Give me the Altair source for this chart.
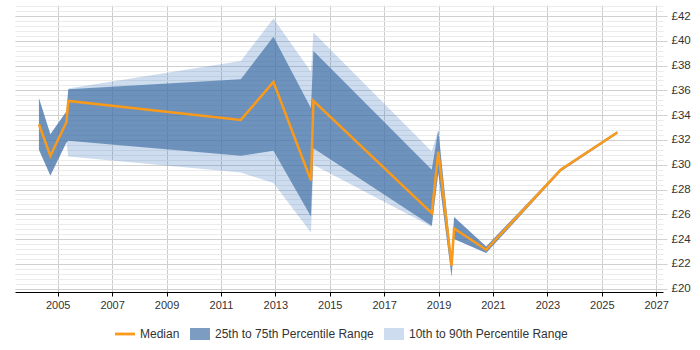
import altair as alt
import pandas as pd

years = [2004.31, 2004.73, 2005.32, 2005.39, 2011.73, 2012.93, 2014.31, 2014.40,
         2018.75, 2018.99, 2019.48, 2019.57, 2020.75, 2023.49, 2025.57]
median = [33.27, 30.72, 33.43, 35.15, 33.62, 36.68, 28.73, 35.15,
          26.10, 31.06, 21.85, 24.86, 23.14, 29.59, 32.60]
p25 = [31.20, 29.13, 31.80, 31.93, 30.72, 31.12, 25.83, 31.33,
       25.08, 29.35, 20.94, 24.00, 22.88, 29.45, 32.50]
p75 = [35.37, 32.47, 34.30, 36.10, 36.90, 40.33, 34.56, 39.18,
       29.59, 32.81, 22.30, 25.78, 23.40, 29.70, 32.70]
p10 = [31.20, 29.13, 31.80, 30.66, 29.37, 28.52, 24.54, 30.00,
       25.00, 29.35, 20.94, 24.00, 22.88, 29.45, 32.50]
p90 = [35.37, 32.47, 34.30, 36.15, 38.37, 41.81, 37.50, 40.68,
       31.06, 32.81, 22.30, 25.78, 23.40, 29.70, 32.70]

series_names = ["Median", "25th to 75th Percentile Range", "10th to 90th Percentile Range"]
x_ticks = list(range(2005, 2028, 2))
y_major = list(range(20, 43, 2))
y_minor = [round(20 + 0.4 * k, 1) for k in range(58)]

df = pd.DataFrame({"year": years, "median": median, "p10": p10, "p25": p25,
                   "p75": p75, "p90": p90})

FONT = "Liberation Sans"
ORANGE = "#fa9a1a"
DARK = "rgba(69,114,167,0.70)"
LIGHT = "rgba(60,120,190,0.26)"

xscale = alt.Scale(domain=[2003.43, 2027.25], nice=False, zero=False)
yscale = alt.Scale(domain=[19.73, 42.89], nice=False, zero=False)

shape_expr = "datum.value === 'Median' ? 'M-1,-0.14H1V0.14H-1Z' : 'M-1,-0.6H1V0.6H-1Z'"
fill_expr = "datum.value === 'Median' ? '%s' : (datum.value === '%s' ? '%s' : '%s')" % (
    ORANGE, series_names[1], DARK, LIGHT)

color = alt.Color(
    "s:N",
    scale=alt.Scale(domain=series_names, range=[ORANGE, DARK, LIGHT]),
    sort=series_names,
    legend=alt.Legend(
        title=None, orient="none", direction="horizontal",
        legendX=100, legendY=319,
        labelFont=FONT, labelFontSize=12, labelColor="#333333",
        symbolSize=400, labelOffset=5, columnPadding=10,
        symbolType={"expr": shape_expr},
        symbolFillColor={"expr": fill_expr},
        symbolStrokeColor="transparent", symbolStrokeWidth=0, symbolOpacity=1,
    ),
)

xaxis = alt.Axis(values=x_ticks, format="d", grid=True, gridColor="#cccccc",
                 domainColor="#000000", tickColor="#000000", tickSize=4,
                 labelFont=FONT, labelFontSize=11, labelColor="#333333",
                 labelPadding=3, labelFlush=False)

base = alt.Chart(df)

light = base.transform_calculate(s="'%s'" % series_names[2]).mark_area().encode(
    x=alt.X("year:Q", scale=xscale, title=None, axis=xaxis),
    y=alt.Y("p10:Q", scale=yscale, title=None,
            axis=alt.Axis(orient="right", values=y_minor, grid=True, gridColor="#ebebeb",
                          labels=False, ticks=False, domain=False)),
    y2="p90:Q",
    color=color,
)

dark = base.transform_calculate(s="'%s'" % series_names[1]).mark_area().encode(
    x=alt.X("year:Q", scale=xscale, title=None, axis=xaxis),
    y=alt.Y("p25:Q", scale=yscale, title=None,
            axis=alt.Axis(orient="right", values=y_major, grid=True, gridColor="#d0d0d0",
                          labelExpr="'£' + datum.value", domain=False, tickSize=4,
                          tickColor="#d0d0d0", labelFont=FONT, labelFontSize=11.5,
                          labelColor="#333333", labelPadding=4)),
    y2="p75:Q",
    color=color,
)

line = base.transform_calculate(s="'Median'").mark_line(strokeWidth=2.5).encode(
    x=alt.X("year:Q", scale=xscale, title=None, axis=xaxis),
    y=alt.Y("median:Q", scale=yscale, axis=None),
    color=color,
)

chart = alt.layer(light, dark, line).resolve_axis(y="independent").properties(
    width=648, height=287,
    padding={"left": 15, "top": 5, "right": 0, "bottom": 0},
).configure_view(stroke=None)

chart.save("out.html", embed_options={"renderer": "svg", "actions": False})
